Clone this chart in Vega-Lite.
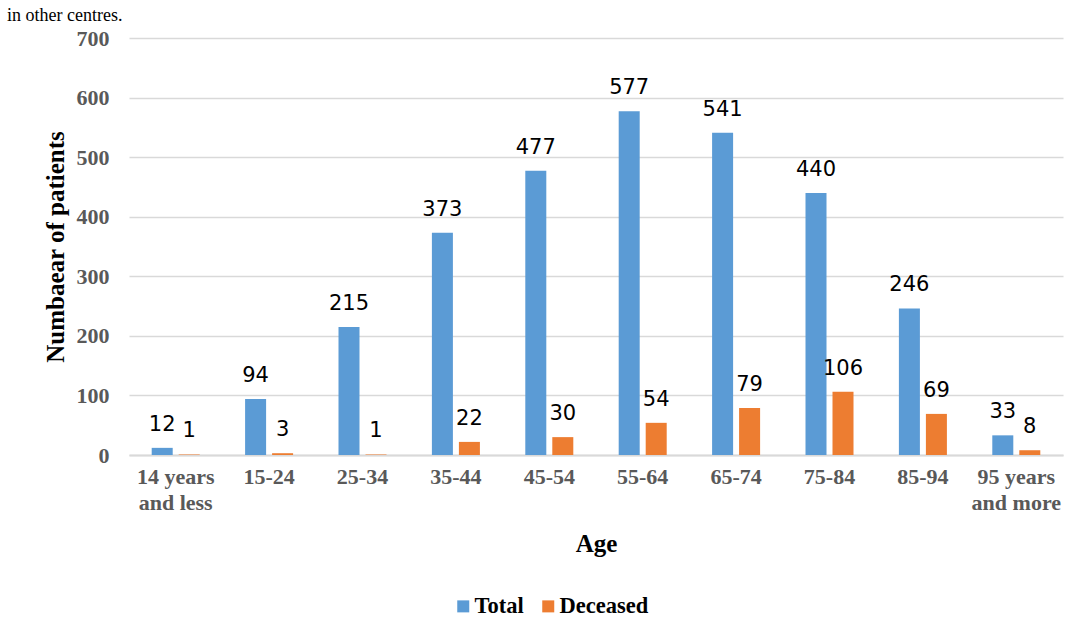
{
  "$schema": "https://vega.github.io/schema/vega-lite/v6.json",
  "autosize": {"type": "none"},
  "width": 934,
  "height": 417,
  "padding": {"left": 129, "top": 38, "right": 11, "bottom": 180},
  "background": "white",
  "title": {
    "text": "in other centres.",
    "anchor": "start",
    "frame": "group",
    "orient": "top",
    "dx": -122,
    "dy": 12,
    "baseline": "alphabetic",
    "offset": 0,
    "font": "Liberation Serif",
    "fontSize": 18,
    "fontWeight": "normal",
    "color": "black"
  },
  "data": {
    "values": [
      {"age": "14 years and less", "series": "Total", "n": 12},
      {"age": "14 years and less", "series": "Deceased", "n": 1},
      {"age": "15-24", "series": "Total", "n": 94},
      {"age": "15-24", "series": "Deceased", "n": 3},
      {"age": "25-34", "series": "Total", "n": 215},
      {"age": "25-34", "series": "Deceased", "n": 1},
      {"age": "35-44", "series": "Total", "n": 373},
      {"age": "35-44", "series": "Deceased", "n": 22},
      {"age": "45-54", "series": "Total", "n": 477},
      {"age": "45-54", "series": "Deceased", "n": 30},
      {"age": "55-64", "series": "Total", "n": 577},
      {"age": "55-64", "series": "Deceased", "n": 54},
      {"age": "65-74", "series": "Total", "n": 541},
      {"age": "65-74", "series": "Deceased", "n": 79},
      {"age": "75-84", "series": "Total", "n": 440},
      {"age": "75-84", "series": "Deceased", "n": 106},
      {"age": "85-94", "series": "Total", "n": 246},
      {"age": "85-94", "series": "Deceased", "n": 69},
      {"age": "95 years and more", "series": "Total", "n": 33},
      {"age": "95 years and more", "series": "Deceased", "n": 8}
    ]
  },
  "encoding": {
    "x": {
      "field": "age",
      "type": "nominal",
      "sort": null,
      "scale": {"paddingInner": 0.486, "paddingOuter": 0.243},
      "axis": {
        "title": "Age",
        "titleFont": "Liberation Serif",
        "titleFontSize": 25,
        "titleFontWeight": "bold",
        "titleColor": "black",
        "titlePadding": 18,
        "labelAngle": 0,
        "labelFont": "Liberation Serif",
        "labelFontSize": 22,
        "labelFontWeight": "bold",
        "labelColor": "#595959",
        "labelPadding": 11,
        "labelLineHeight": 26,
        "labelExpr": "datum.value == '14 years and less' ? ['14 years', 'and less'] : datum.value == '95 years and more' ? ['95 years', 'and more'] : datum.value",
        "domainColor": "#d9d9d9",
        "domainWidth": 2,
        "ticks": false
      }
    },
    "xOffset": {
      "field": "series",
      "type": "nominal",
      "sort": ["Total", "Deceased"],
      "scale": {"paddingInner": 0.222, "paddingOuter": 0}
    },
    "y": {
      "field": "n",
      "type": "quantitative",
      "scale": {"domain": [0, 700]},
      "axis": {
        "title": "Numbaear of patients",
        "titleFont": "Liberation Serif",
        "titleFontSize": 25,
        "titleFontWeight": "bold",
        "titleColor": "black",
        "titlePadding": 8,
        "values": [0, 100, 200, 300, 400, 500, 600, 700],
        "labelFont": "Liberation Serif",
        "labelFontSize": 22,
        "labelFontWeight": "bold",
        "labelColor": "#595959",
        "labelPadding": 20,
        "domain": false,
        "ticks": false,
        "gridColor": "#d9d9d9",
        "gridWidth": 1.5
      }
    }
  },
  "layer": [
    {
      "mark": {"type": "bar"},
      "encoding": {
        "color": {
          "field": "series",
          "type": "nominal",
          "sort": ["Total", "Deceased"],
          "scale": {"domain": ["Total", "Deceased"], "range": ["#5B9BD5", "#ED7D31"]},
          "legend": {
            "title": null,
            "orient": "none",
            "direction": "horizontal",
            "legendX": 323,
            "legendY": 557,
            "symbolType": "square",
            "symbolSize": 144,
            "symbolStrokeWidth": 0,
            "labelFont": "Liberation Serif",
            "labelFontSize": 22.5,
            "labelFontWeight": "bold",
            "labelColor": "black",
            "labelOffset": 0,
            "columnPadding": 13
          }
        }
      }
    },
    {
      "mark": {"type": "text", "baseline": "alphabetic", "dy": -17, "font": "DejaVu Sans", "fontSize": 21, "color": "black"},
      "encoding": {
        "text": {"field": "n", "type": "quantitative"}
      }
    }
  ],
  "config": {
    "view": {"stroke": null}
  }
}
